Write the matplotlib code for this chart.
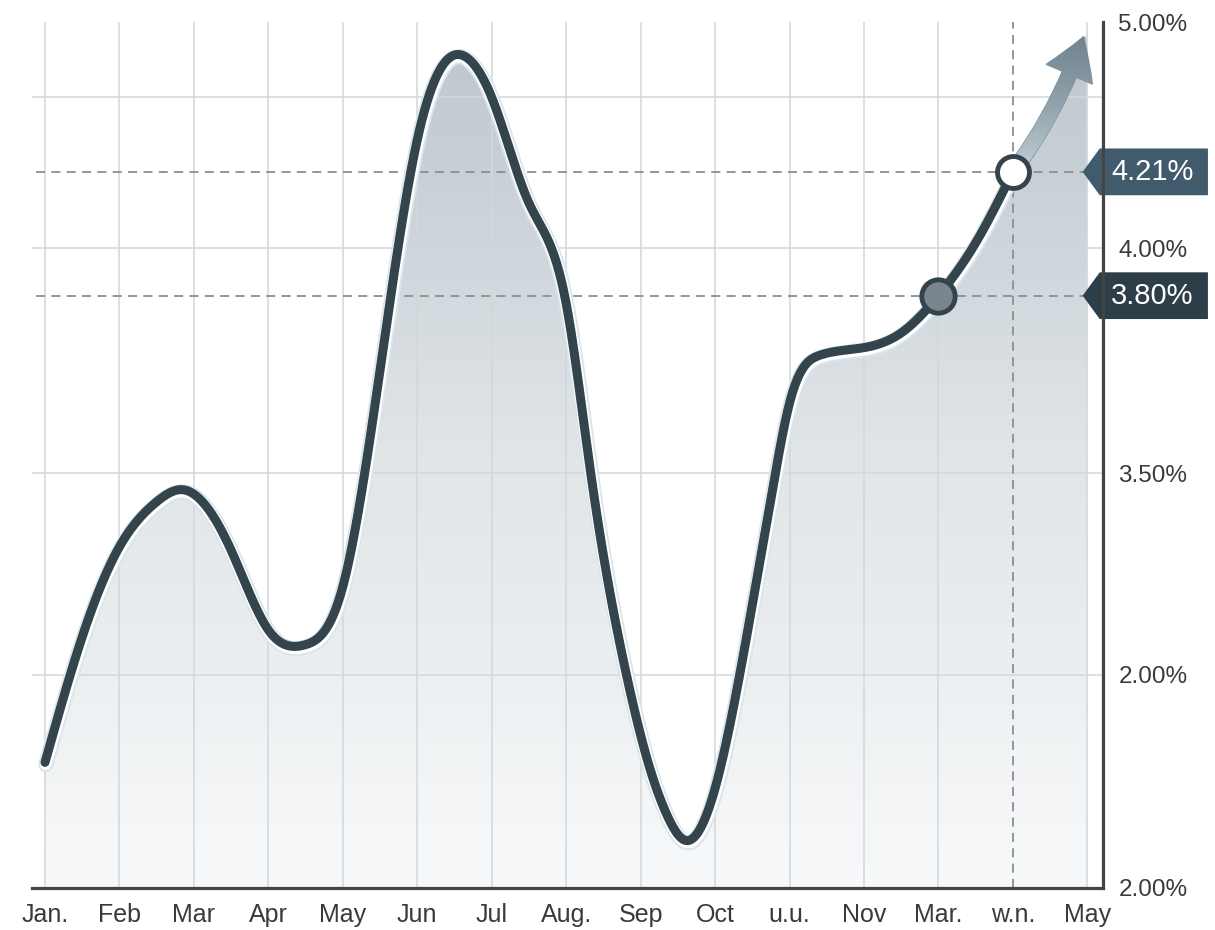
import matplotlib
matplotlib.use("Agg")
import matplotlib.pyplot as plt
import numpy as np
from matplotlib.patches import Polygon, FancyArrowPatch
from matplotlib.colors import LinearSegmentedColormap
import matplotlib.patheffects as pe
import matplotlib.transforms as mtransforms

plt.rcParams['font.family'] = ['Liberation Sans', 'DejaVu Sans']

# month labels along the bottom
months = ['Jan.', 'Feb', 'Mar', 'Apr', 'May', 'Jun', 'Jul', 'Aug.',
          'Sep', 'Oct', 'u.u.', 'Nov', 'Mar.', 'w.n.', 'May']

# curve (x = month index, level = chart height 0..10)
x_pos = [0, 0.5, 1, 1.5, 1.84, 2.5, 3, 3.5, 4, 4.5, 5, 5.68, 6, 6.5, 7,
         7.33, 7.81, 8.1, 8.35, 8.6, 9, 9.33, 9.81, 10, 10.4, 11, 11.5, 12, 12.5, 13]
level = [1.45, 2.90, 3.94, 4.46, 4.60, 3.90, 2.98, 2.81, 3.48, 5.98, 8.64,
         9.58, 9.13, 7.91, 6.75, 4.79, 2.46, 1.45, 0.85, 0.55, 1.15, 2.46,
         4.79, 5.60, 6.15, 6.24, 6.41, 6.84, 7.45, 8.27]

# right axis ticks (labels as printed on the chart)
y_ticks = [0.0, 2.46, 4.79, 7.39, 10.0]
y_labels = ['2.00%', '2.00%', '3.50%', '4.00%', '5.00%']
grid_levels = [2.46, 4.79, 7.39, 9.13]

# highlighted points
mark_x = [12, 13]
mark_level = [6.84, 8.27]
mark_label = ['3.80%', '4.21%']
arrow_tip = (13.95, 9.83)


def natural_spline(x, y, xs):
    x = np.asarray(x, float)
    y = np.asarray(y, float)
    n = len(x)
    h = np.diff(x)
    A = np.zeros((n, n))
    b = np.zeros(n)
    A[0, 0] = 1
    A[-1, -1] = 1
    for i in range(1, n - 1):
        A[i, i - 1] = h[i - 1]
        A[i, i] = 2 * (h[i - 1] + h[i])
        A[i, i + 1] = h[i]
        b[i] = 3 * ((y[i + 1] - y[i]) / h[i] - (y[i] - y[i - 1]) / h[i - 1])
    c = np.linalg.solve(A, b)
    bb = (y[1:] - y[:-1]) / h - h * (2 * c[:-1] + c[1:]) / 3
    d = (c[1:] - c[:-1]) / (3 * h)
    idx = np.clip(np.searchsorted(x, xs) - 1, 0, n - 2)
    dx = xs - x[idx]
    return y[idx] + bb[idx] * dx + c[idx] * dx ** 2 + d[idx] * dx ** 3


fig = plt.figure(figsize=(12.15, 9.3), dpi=100)
ax = fig.add_axes([0.0263, 0.0452, 0.8815, 0.9311])
x_left, x_right = -0.175, 14.21
ax.set_xlim(x_left, x_right)
ax.set_ylim(0, 10)

xs = np.linspace(x_pos[0], x_pos[-1], 1200)
ys = natural_spline(x_pos, level, xs)

# gradient fill under the curve (and under the arrow up to May)
verts = [(x_pos[0], 0)] + list(zip(xs, ys)) + [arrow_tip, (14, arrow_tip[1]), (14, 0)]
clip = Polygon(verts, closed=True, facecolor='none', edgecolor='none', transform=ax.transData)
ax.add_patch(clip)
cmap = LinearSegmentedColormap.from_list('fill', ['#f8f9fa', '#e0e5e8', '#bcc6cd'])
grad = np.linspace(0, 1, 256).reshape(-1, 1)
im = ax.imshow(grad, extent=[x_left, x_right, 0, 10], origin='lower', aspect='auto',
               cmap=cmap, zorder=1)
im.set_clip_path(clip)

# grid
for i in range(len(months)):
    if i == 13:
        continue
    ax.axvline(i, color='#d3d7da', lw=1.1, zorder=2)
for g in grid_levels:
    ax.axhline(g, color='#d3d7da', lw=1.1, zorder=2)

# dashed guides
ax.axvline(13, color='#8a8f93', lw=1.3, ls=(0, (5, 3.5)), zorder=2.5)
for lv in mark_level:
    ax.axhline(lv, xmin=0.004, xmax=0.981, color='#8a8f93', lw=1.3, ls=(0, (5, 3.5)), zorder=2.5)

# arrow continuing the trend, shaded light -> dark
arr = FancyArrowPatch((mark_x[-1], mark_level[-1]), arrow_tip,
                      arrowstyle='simple,head_length=1.6,head_width=2.0,tail_width=0.6',
                      mutation_scale=18, connectionstyle='arc3,rad=0.08',
                      shrinkA=10, shrinkB=0, color='#7d8f9a', zorder=3.5)
ax.add_patch(arr)
acmap = LinearSegmentedColormap.from_list('arrow', ['#c3ced4', '#8fa0aa', '#6c7f8b'])
aim = ax.imshow(grad, extent=[mark_x[-1] - 0.1, arrow_tip[0] + 0.2, mark_level[-1], arrow_tip[1] + 0.1],
                origin='lower', aspect='auto', cmap=acmap, zorder=3.6)
aim.set_clip_path(arr)

# main line with a light under-glow
ax.plot(xs, ys, color='#34444d', lw=6.5, solid_capstyle='round', zorder=4,
        path_effects=[pe.Stroke(linewidth=11, foreground='#dbe5ea', offset=(0.6, -1.6)),
                      pe.Stroke(linewidth=8.5, foreground='white', offset=(0.5, -1.3)),
                      pe.Normal()])

# markers
ax.plot(mark_x[0], mark_level[0], 'o', ms=24, mfc='#7a858d', mec='#34444d', mew=3.5, zorder=5)
ax.plot(mark_x[1], mark_level[1], 'o', ms=23, mfc='white', mec='#34444d', mew=3.5, zorder=5)

# value boxes on the right
blend = mtransforms.blended_transform_factory(ax.transAxes, ax.transData)
box_colors = ['#2e3e49', '#3f5b6c']
h = 0.27
for lv, lab, col in zip(mark_level, mark_label, box_colors):
    shape = Polygon([(0.981, lv), (0.997, lv + h), (1.098, lv + h), (1.098, lv - h), (0.997, lv - h)],
                    closed=True, facecolor=col, edgecolor='none', transform=blend,
                    clip_on=False, zorder=6)
    ax.add_patch(shape)
    ax.text(1.046, lv, lab, transform=blend, ha='center', va='center', color='white',
            fontsize=21, zorder=7, clip_on=False)

# axes styling
ax.set_xticks(range(len(months)))
ax.set_xticklabels(months, fontsize=18, color='#3a3a3a')
ax.yaxis.tick_right()
ax.set_yticks(y_ticks)
ax.set_yticklabels(y_labels, fontsize=17.5, color='#3a3a3a')
ax.tick_params(axis='x', length=0, pad=11)
ax.tick_params(axis='y', length=0, pad=11)
for s in ['top', 'left']:
    ax.spines[s].set_visible(False)
for s in ['bottom', 'right']:
    ax.spines[s].set_color('#444444')
    ax.spines[s].set_linewidth(2.3)
    ax.spines[s].set_zorder(6)

fig.savefig('out.png', dpi=100)
